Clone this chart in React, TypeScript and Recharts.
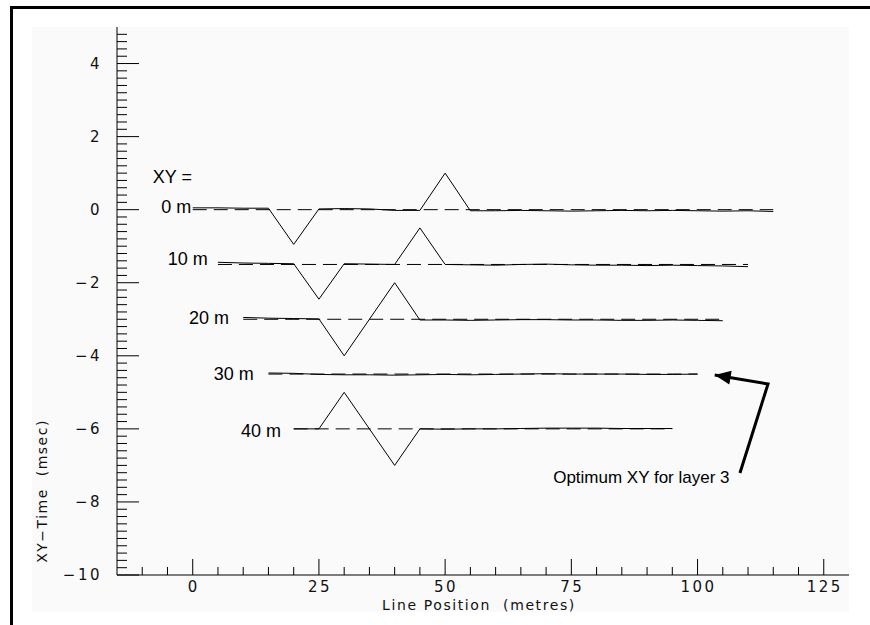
import { ComposedChart, Line, XAxis, YAxis, ReferenceDot } from "recharts";

// line position (m), shared by every XY trace
const positions = [0, 5, 10, 15, 20, 25, 30, 35, 40, 45, 50, 55, 60, 65, 70, 75, 80, 85, 90, 95, 100, 105, 110, 115];

// XY-time (msec) for each trial XY spacing, null where the trace has no point
const xy0 = [0.05, 0.05, 0.04, 0.04, -0.95, 0.02, 0.03, 0.02, -0.02, -0.02, 1.0, -0.03, -0.03, -0.02, -0.03, -0.04, -0.03, -0.02, -0.03, -0.02, -0.03, -0.04, -0.03, -0.05];
const xy10 = [null, -1.44, -1.46, -1.47, -1.48, -2.45, -1.48, -1.49, -1.5, -0.5, -1.5, -1.51, -1.52, -1.5, -1.49, -1.51, -1.52, -1.52, -1.53, -1.52, -1.53, -1.54, -1.56, null];
const xy20 = [null, null, -2.95, -2.97, -2.98, -2.99, -4.0, -3.0, -2.0, -3.02, -3.02, -3.03, -3.02, -3.01, -3.01, -3.02, -3.02, -3.03, -3.03, -3.02, -3.03, -3.04, null, null];
const xy30 = [null, null, null, -4.47, -4.48, -4.51, -4.52, -4.52, -4.53, -4.52, -4.51, -4.52, -4.51, -4.5, -4.49, -4.5, -4.5, -4.5, -4.51, -4.51, -4.5, null, null, null];
const xy40 = [null, null, null, null, -6.0, -6.0, -5.0, -6.0, -7.0, -6.0, -6.01, -6.0, -6.0, -5.99, -5.98, -5.98, -5.98, -5.99, -5.99, -5.99, null, null, null, null];

// dashed reference levels
const baselineLevels = [0, -1.5, -3, -4.5, -6];
const baselineStarts = [0, 5, 10, 15, 20];
const baselineEnds = [115, 110, 105, 100, 95];

const seriesLabels = ["0 m", "10 m", "20 m", "30 m", "40 m"];
const labelX = [-0.3, 3.0, 7.2, 12.1, 17.5];
const labelY = [0.07, -1.35, -2.97, -4.5, -6.06];

const headerText = "XY =";
const headerX = -7.9;
const headerY = 0.9;

const noteText = "Optimum XY for layer 3";
const noteX = 71.4;
const noteY = -7.32;

// arrow: tail, bend, tip
const arrowX = [108.4, 113.96, 103.4];
const arrowY = [-7.21, -4.77, -4.525];

const xTicks = [-10, -5, 0, 5, 10, 15, 20, 25, 30, 35, 40, 45, 50, 55, 60, 65, 70, 75, 80, 85, 90, 95, 100, 105, 110, 115, 120, 125];
const xLabelTicks = [0, 25, 50, 75, 100, 125];
const yLabelTicks = [-10, -8, -6, -4, -2, 0, 2, 4];
const yTicks: number[] = [];
for (let i = 0; i < 75; i++) yTicks.push(Math.round((-10 + i * 0.2) * 10) / 10);

const traces = [xy0, xy10, xy20, xy30, xy40].map((vals) =>
  positions.map((x, i) => ({ x, y: vals[i] })).filter((p) => p.y !== null)
);
const baselines = baselineLevels.map((lv, i) => [
  { x: baselineStarts[i], y: lv },
  { x: baselineEnds[i], y: lv },
]);
const arrowData = arrowX.map((x, i) => ({ x, y: arrowY[i] }));

const tickFont = { fontFamily: "DejaVu Sans", fontSize: 15, fill: "#111", letterSpacing: 2.5 };
const titleFont = { fontFamily: "DejaVu Sans", fontSize: 14, fill: "#111" };
const noteFont = { fontFamily: "Liberation Sans, Arial, sans-serif", fill: "#000" };

const fmt = (v: number) => (v < 0 ? "\u2212" + Math.abs(v) : String(v));
const isYMajor = (v: number) => yLabelTicks.some((t) => Math.abs(t - v) < 1e-6);

function BottomTick(p: any) {
  const v = p.payload.value;
  const major = xLabelTicks.includes(v);
  return (
    <g>
      <line x1={p.x} x2={p.x} y1={p.y} y2={p.y - (major ? 16 : 8)} stroke="#000" />
      {major && (
        <text x={p.x + 1} y={p.y + 17} textAnchor="middle" {...tickFont}>
          {fmt(v)}
        </text>
      )}
    </g>
  );
}

function TopTick(p: any) {
  const major = xLabelTicks.includes(p.payload.value);
  return <line x1={p.x} x2={p.x} y1={p.y} y2={p.y + (major ? 16 : 8)} stroke="#000" />;
}

function LeftTick(p: any) {
  const v = p.payload.value;
  const major = isYMajor(v);
  return (
    <g>
      <line x1={p.x} x2={p.x + (major ? 22 : 10)} y1={p.y} y2={p.y} stroke="#000" />
      {major && (
        <text x={p.x - 15} y={p.y + 5} textAnchor="end" {...tickFont}>
          {fmt(Math.round(v))}
        </text>
      )}
    </g>
  );
}

function RightTick(p: any) {
  const major = isYMajor(p.payload.value);
  return <line x1={p.x} x2={p.x - (major ? 22 : 10)} y1={p.y} y2={p.y} stroke="#000" />;
}

function ArrowHead(p: any) {
  if (p.index !== arrowData.length - 1) return <g key={p.key ?? p.index} />;
  return (
    <polygon
      key={p.key ?? p.index}
      points="0,0 16,-7 16,7"
      transform={`translate(${p.cx},${p.cy}) rotate(9.6)`}
      fill="#000"
    />
  );
}

function textShape(text: string, size: number, anchor: "start" | "end") {
  return (p: any) => (
    <text x={p.cx} y={p.cy} fontSize={size} textAnchor={anchor} dominantBaseline="central" {...noteFont}>
      {text}
    </text>
  );
}

export default function App() {
  return (
    <div style={{ position: "absolute", left: 0, top: 0, width: 870, height: 625, background: "#fff", overflow: "hidden" }}>
      <div style={{ position: "absolute", left: 10, top: 6, width: 870, height: 630, borderTop: "3px solid #000", borderLeft: "3px solid #000" }} />
      <div style={{ position: "absolute", left: 32, top: 27, width: 817, height: 585, background: "#fafafa" }} />
      <div style={{ position: "absolute", left: 0, top: 0 }}>
        <ComposedChart width={870} height={625} margin={{ top: 27, right: 21, bottom: 0, left: 17 }}>
          <XAxis
            dataKey="x"
            type="number"
            domain={[-15, 130]}
            allowDataOverflow
            ticks={xTicks}
            interval={0}
            tickSize={0}
            tickMargin={0}
            height={50}
            axisLine={{ stroke: "#000" }}
            tick={BottomTick}
            label={{
              content: (lp: any) => {
                const vb = lp.viewBox;
                return (
                  <text x={vb.x + vb.width / 2 - 4} y={vb.y + 35} textAnchor="middle" style={{ whiteSpace: "pre" }} {...titleFont} letterSpacing={1.6}>
                    {"Line Position  (metres)"}
                  </text>
                );
              },
            }}
          />
          <XAxis
            xAxisId="top"
            orientation="top"
            dataKey="x"
            type="number"
            domain={[-15, 130]}
            allowDataOverflow
            ticks={xTicks}
            interval={0}
            tickSize={0}
            tickMargin={0}
            height={0}
            axisLine={{ stroke: "#000" }}
            tick={TopTick}
          />
          <YAxis
            type="number"
            domain={[-10, 5]}
            allowDataOverflow
            ticks={yTicks}
            interval={0}
            tickSize={0}
            tickMargin={0}
            width={100}
            axisLine={{ stroke: "#000" }}
            tick={LeftTick}
            label={{
              content: (lp: any) => {
                const vb = lp.viewBox;
                const cx = vb.x + 25;
                const cy = 491;
                return (
                  <text x={cx} y={cy} textAnchor="middle" dominantBaseline="central" transform={`rotate(-90 ${cx} ${cy})`} style={{ whiteSpace: "pre" }} {...titleFont} letterSpacing={1.5}>
                    {"XY\u2212Time  (msec)"}
                  </text>
                );
              },
            }}
          />
          <YAxis
            yAxisId="right"
            orientation="right"
            type="number"
            domain={[-10, 5]}
            allowDataOverflow
            ticks={yTicks}
            interval={0}
            tickSize={0}
            tickMargin={0}
            width={0}
            axisLine={{ stroke: "#000" }}
            tick={RightTick}
          />

          {baselines.map((d, i) => (
            <Line
              key={"b" + i}
              data={d}
              dataKey="y"
              stroke="#000"
              strokeWidth={1}
              strokeDasharray="14 7"
              dot={false}
              isAnimationActive={false}
            />
          ))}
          {traces.map((d, i) => (
            <Line
              key={"t" + i}
              data={d}
              dataKey="y"
              type="linear"
              stroke="#000"
              strokeWidth={1}
              dot={false}
              isAnimationActive={false}
            />
          ))}
          <Line
            data={arrowData}
            dataKey="y"
            type="linear"
            stroke="#000"
            strokeWidth={3}
            dot={ArrowHead}
            isAnimationActive={false}
          />

          {seriesLabels.map((s, i) => (
            <ReferenceDot key={s} x={labelX[i]} y={labelY[i]} r={0} shape={textShape(s, 18, "end")} />
          ))}
          <ReferenceDot x={headerX} y={headerY} r={0} shape={textShape(headerText, 18, "start")} />
          <ReferenceDot x={noteX} y={noteY} r={0} shape={textShape(noteText, 17, "start")} />
        </ComposedChart>
      </div>
    </div>
  );
}
